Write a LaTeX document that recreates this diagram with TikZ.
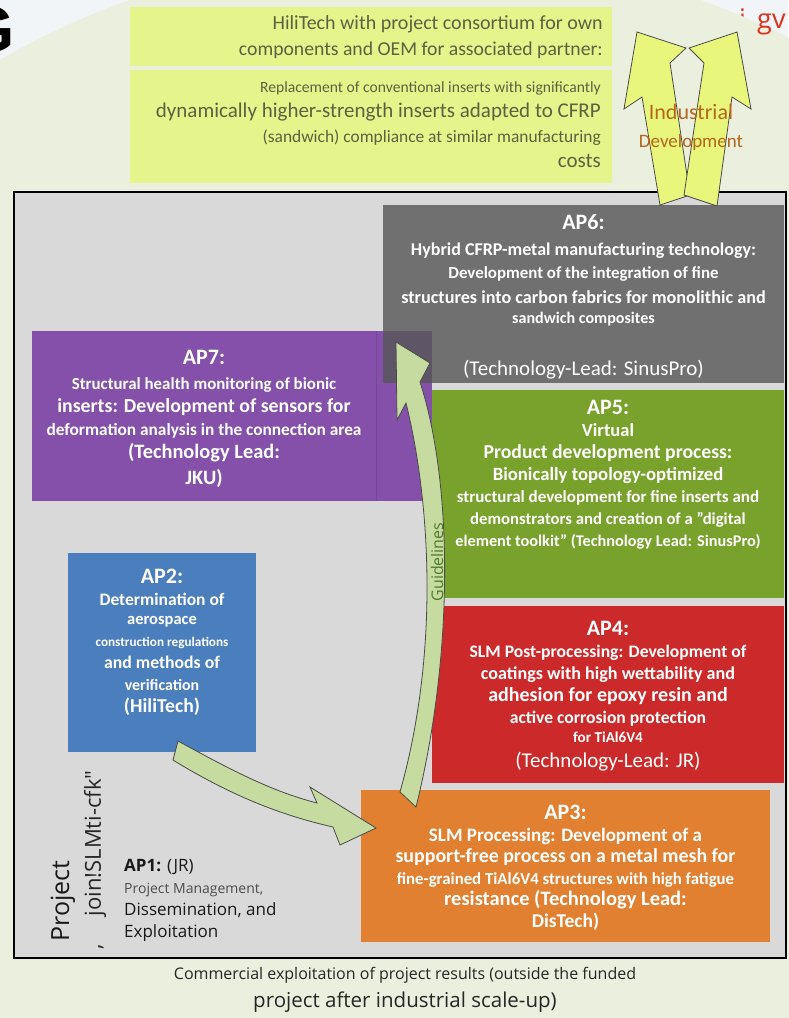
\documentclass[tikz,border=0pt]{standalone}
\usepackage{fontspec}
\setmainfont{Carlito}
\newfontfamily\opensans{Open Sans}
\newfontfamily\liberation{Liberation Sans}
\usetikzlibrary{positioning}

\definecolor{bggreen}{HTML}{EBEFDE}
\definecolor{cornerwhite}{HTML}{F2F5F7}
\definecolor{yellowbox}{HTML}{E5F58C}
\definecolor{yellowtext}{HTML}{5C6240}
\definecolor{framegray}{HTML}{D9D9D9}
\definecolor{apgray}{HTML}{707070}
\definecolor{appurple}{HTML}{8450AA}
\definecolor{purpleline}{HTML}{77469C}
\definecolor{overlapgray}{HTML}{5E5666}
\definecolor{apgreen}{HTML}{79A22C}
\definecolor{apred}{HTML}{CC2A2A}
\definecolor{aporange}{HTML}{E08030}
\definecolor{apblue}{HTML}{4A7EBD}
\definecolor{arrowgreen}{HTML}{C6DB9F}
\definecolor{arrowyellow}{HTML}{E8F77C}
\definecolor{arrowline}{HTML}{4A4A4A}
\definecolor{indbrown}{HTML}{B5651D}
\definecolor{guidegreen}{HTML}{4F7A2A}
\definecolor{cornerred}{HTML}{E0301E}

\newcommand{\fsz}[1]{\fontsize{#1}{#1}\selectfont}
\newcommand{\dq}{\symbol{34}}

\begin{document}
\begin{tikzpicture}[
  x=1pt,y=-1pt,
  wpbox/.style={anchor=north west,inner sep=0pt,outer sep=0pt},
  wptext/.style={align=center,text=white,inner sep=0pt},
  blockarrow/.style={draw=arrowline,line width=0.8pt,fill=arrowgreen},
  indarrow/.style={draw=arrowline,line width=0.8pt,fill=arrowyellow}
  ]
  \useasboundingbox (0,0) rectangle (788,1018);
  \fill[cornerwhite] (0,0) rectangle (788,1018);
  \node (cornerdot)  [anchor=base west,inner sep=0pt,text=cornerred,font=\opensans\fsz{27}] at (739,28) {i};
  \fill[bggreen] (415,600) ellipse [x radius=748pt,y radius=649pt];
  \node (cornerword) [anchor=base west,inner sep=0pt,text=cornerred,font=\opensans\fsz{27}] at (757,28) {gv};

  \node (cornerletter) [anchor=base east,inner sep=0pt,font=\liberation\bfseries\fsz{66}] at (15,52) {G};

  \node (consortium)  [wpbox,fill=yellowbox,minimum width=482pt,minimum height=59pt] at (130,7) {};
  \node (replacement) [wpbox,fill=yellowbox,minimum width=482pt,minimum height=113pt] at (130,70) {};
  \node (consortiumtext)  [below left=8pt and 9pt of consortium.north east,align=right,inner sep=0pt,text=yellowtext,font=\fontsize{20}{26}\selectfont]
    {HiliTech with project consortium for own\\ \fsz{19.7}components and OEM for associated partner:};
  \node (replacementtext) [below left=11pt and 11pt of replacement.north east,align=right,inner sep=0pt,text=yellowtext,font=\fontsize{16}{25}\selectfont]
    {\fsz{15.6}Replacement of conventional inserts with significantly\\
     \fsz{21}dynamically higher-strength inserts adapted to CFRP\\
     \fsz{17.4}(sandwich) compliance at similar manufacturing\\
     \fsz{21}costs};

  \node (frame) [wpbox,draw=black,line width=2pt,fill=framegray,minimum width=772pt,minimum height=766pt] at (14,192) {};

  \node (ap7) [wpbox,fill=appurple,minimum width=344pt,minimum height=170pt] at (32,331) {};
  \fill[appurple] (ap7.north east) rectangle (432,501);
  \draw[purpleline] (ap7.north east) -- (ap7.south east);
  \node (ap2) [wpbox,fill=apblue,minimum width=188pt,minimum height=199pt] at (68,553) {};
  \node (ap6) [wpbox,fill=apgray,minimum width=401pt,minimum height=178pt] at (383,205) {};
  \fill[overlapgray] (ap6.south west) rectangle (432,331);
  \node (ap5) [wpbox,fill=apgreen,minimum width=352pt,minimum height=208pt] at (432,390) {};
  \node (ap4) [wpbox,fill=apred,minimum width=352pt,minimum height=177pt] at (432,606) {};
  \node (ap3) [wpbox,fill=aporange,minimum width=409pt,minimum height=152pt] at (361,790) {};

  \node (ap6text) [wptext,below=9pt of ap6.north,font=\bfseries\fontsize{17}{23}\selectfont]
    {\fsz{22}AP6:\\[3pt]
     \fsz{18}Hybrid CFRP-metal manufacturing technology:\\
     \fsz{16.9}Development of the integration of fine\\[2pt]
     \fsz{18.2}structures into carbon fabrics for monolithic and\\[-3pt]
     \fsz{16.1}sandwich composites\\[29pt]
     \mdseries\fsz{21}(Technology-Lead: SinusPro)};
  \node (ap7text) [wptext,below=19pt of ap7.north,font=\bfseries\fontsize{17}{23}\selectfont]
    {\fsz{22}AP7:\\[2pt]
     \fsz{16.9}Structural health monitoring of bionic\\
     \fsz{19.8}inserts: Development of sensors for\\
     \fsz{17.3}deformation analysis in the connection area\\
     \fsz{20.4}(Technology Lead:\\[3pt]
     \fsz{20.4}JKU)};
  \node (ap5text) [wptext,below=10pt of ap5.north,font=\bfseries\fontsize{17}{22}\selectfont]
    {\fsz{22}AP5:\\
     \fsz{18.5}Virtual\\
     \fsz{19.7}Product development process:\\
     \fsz{18.7}Bionically topology-optimized\\
     \fsz{17}structural development for fine inserts and\\
     \fsz{16.7}demonstrators and creation of a \dq digital\\
     \fsz{16.3}element toolkit\dq\ (Technology Lead: SinusPro)};
  \node (ap4text) [wptext,below=15pt of ap4.north,font=\bfseries\fontsize{17}{22}\selectfont]
    {\fsz{22}AP4:\\
     \fsz{17.6}SLM Post-processing: Development of\\
     \fsz{18.1}coatings with high wettability and\\
     \fsz{20}adhesion for epoxy resin and\\
     \fsz{17.6}active corrosion protection\\[-3pt]
     \fsz{15.1}for TiAl6V4\\[3pt]
     \mdseries\fsz{21}(Technology-Lead: JR)};
  \node (ap3text) [wptext,below=15pt of ap3.north,font=\bfseries\fontsize{17}{21.5}\selectfont]
    {\fsz{22}AP3:\\
     \fsz{19}SLM Processing: Development of a\\
     \fsz{19.9}support-free process on a metal mesh for\\
     \fsz{16.8}fine-grained TiAl6V4 structures with high fatigue\\
     \fsz{20.5}resistance (Technology Lead:\\
     \fsz{19.5}DisTech)};
  \node (ap2text) [wptext,below=16pt of ap2.north,font=\bfseries\fontsize{17}{22}\selectfont]
    {\fsz{22}AP2:\\
     \fsz{17.5}Determination of\\[-3pt]
     \fsz{16.5}aerospace\\
     \fsz{13.2}construction regulations\\
     \fsz{17.7}and methods of\\
     \fsz{15.9}verification\\
     \fsz{19.7}(HiliTech)};

  \node (ap1text) [anchor=north west,align=left,inner sep=0pt,text=black!90,font=\opensans\fontsize{17}{22}\selectfont] at (124,859)
    {\textbf{AP1:} (JR)\\
     \fsz{14}\color{black!70}Project Management,\\
     Dissemination, and\\
     Exploitation};
  \node (projectlabel) [rotate=90,inner sep=0pt,text=black!90,font=\opensans\fsz{25}] at (63,901) {Project};
  \node (joinlabel)    [rotate=90,inner sep=0pt,text=black!85,font=\opensans\fsz{22}] at (95,860) {,\hspace{28pt}join!SLMti-cfk\dq};

  \draw[blockarrow] (178,741) .. controls (240,775) and (275,792) .. (317,803) -- (310,787) -- (376,828)
    -- (340,845) -- (333,827) .. controls (280,815) and (230,795) .. (173,760) -- cycle;
  \draw[blockarrow] (400,792) .. controls (440,650) and (430,500) .. (406,403) -- (397,420) -- (396,342)
    -- (430,363) -- (420,382) .. controls (452,480) and (455,650) .. (416,807) -- cycle;
  \node (guidelabel) [rotate=90,inner sep=1pt,text=guidegreen,font=\opensans\fsz{16}] at (437,562) {Guidelines};

  \draw[indarrow] (637,32) -- (686,48) -- (670,63) -- (690,195) -- (660,205) -- (642,97) -- (624,109) -- cycle;
  \draw[indarrow] (737,32) -- (751,109) -- (732,97) -- (717,206) -- (684,195) -- (704,63) -- (689,48) -- cycle;
  \node (industrial) [align=center,inner sep=0pt,text=indbrown,font=\fontsize{22}{28}\selectfont] at (691,127)
    {Industrial\\ \fsz{19}Development};

  \node (exploitation) [align=center,inner sep=0pt,text=black!85,font=\opensans\fontsize{16}{28}\selectfont] at (405,990)
    {Commercial exploitation of project results (outside the funded\\
     \fsz{20.5}project after industrial scale-up)};
\end{tikzpicture}
\end{document}
